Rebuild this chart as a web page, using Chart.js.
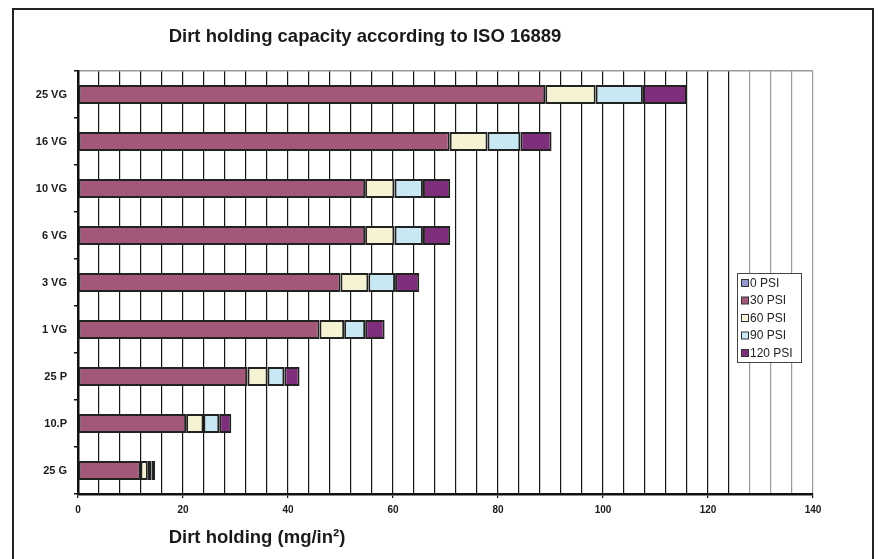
<!DOCTYPE html>
<html>
<head>
<meta charset="utf-8">
<title>Dirt holding capacity</title>
<script src="https://cdn.jsdelivr.net/npm/chart.js@4.4.1/dist/chart.umd.min.js"></script>
<style>
  html, body { margin: 0; padding: 0; background: #fff; }
  #wrap { width: 879px; height: 559px; }
</style>
</head>
<body>
<div id="wrap"><canvas id="dirtChart" width="879" height="559"></canvas></div>
<script>
// --- Datos ---
const categories = ['25 VG', '16 VG', '10 VG', '6 VG', '3 VG', '1 VG', '25 P', '10.P', '25 G'];
const seriesNames = ['0 PSI', '30 PSI', '60 PSI', '90 PSI', '120 PSI'];
const psi0 = [0, 0, 0, 0, 0, 0, 0, 0, 0];
const psi30 = [89, 70.8, 54.7, 54.7, 50, 46, 32.3, 20.6, 11.9];
const psi60 = [9.6, 7.2, 5.6, 5.6, 5.3, 4.7, 3.8, 3.3, 1.4];
const psi90 = [9.0, 6.3, 5.4, 5.4, 5.1, 4.0, 3.2, 3.0, 0.7];
const psi120 = [8.4, 5.9, 5.2, 5.2, 4.6, 3.7, 2.9, 2.3, 0.7];
const xTicks = [0, 20, 40, 60, 80, 100, 120, 140];

const colors = ['#9297cc', '#a3587a', '#f5f3d4', '#c8e8f4', '#7d2f7c'];
const FONT = '"Liberation Sans", Arial, sans-serif';

// Marco, títulos y leyenda dibujados a mano
const decorPlugin = {
    id: 'decor',
    afterDraw(chart) {
        const ctx = chart.ctx;
        ctx.save();

        // marco exterior
        ctx.strokeStyle = '#222';
        ctx.lineWidth = 2;
        ctx.strokeRect(13, 9, 860, 620);

        ctx.fillStyle = '#1a1a1a';
        ctx.textBaseline = 'middle';
        ctx.textAlign = 'center';
        ctx.font = 'bold 18.5px ' + FONT;
        ctx.fillText('Dirt holding capacity according to ISO 16889', 365, 37);
        ctx.fillText('Dirt holding (mg/in²)', 257, 538);

        // leyenda
        const lx = 737, ly = 273, lw = 64, lh = 89;
        ctx.fillStyle = '#fff';
        ctx.fillRect(lx, ly, lw, lh);
        ctx.strokeStyle = '#444';
        ctx.lineWidth = 1;
        ctx.strokeRect(lx + 0.5, ly + 0.5, lw, lh);
        ctx.textAlign = 'left';
        ctx.font = '12px ' + FONT;
        chart.data.datasets.forEach((ds, i) => {
            const y = ly + 10 + i * 17.5;
            ctx.fillStyle = ds.backgroundColor;
            ctx.fillRect(lx + 4, y - 3.5, 7, 7);
            ctx.strokeStyle = '#333';
            ctx.strokeRect(lx + 4.5, y - 3.5, 7, 7);
            ctx.fillStyle = '#222';
            ctx.fillText(ds.label, lx + 13, y + 0.5);
        });
        ctx.restore();
    }
};

const dataSeries = [psi0, psi30, psi60, psi90, psi120];

new Chart(document.getElementById('dirtChart'), {
    type: 'bar',
    data: {
        labels: categories,
        datasets: dataSeries.map((vals, i) => ({
            label: seriesNames[i],
            data: vals,
            backgroundColor: colors[i],
            borderColor: '#222',
            borderWidth: 2,
            borderSkipped: false,
            barPercentage: 0.4,
            categoryPercentage: 1
        }))
    },
    options: {
        indexAxis: 'y',
        responsive: false,
        animation: false,
        layout: { padding: { top: 71, right: 66, left: 0, bottom: 0 } },
        plugins: {
            legend: { display: false },
            tooltip: { enabled: false },
            title: { display: false }
        },
        scales: {
            x: {
                type: 'linear',
                stacked: true,
                min: 0,
                max: 140,
                afterFit: (s) => { s.height = 65; },
                ticks: {
                    stepSize: 4,
                    autoSkip: false,
                    maxRotation: 0,
                    padding: 6,
                    color: '#1a1a1a',
                    font: { family: '"Liberation Sans Narrow", ' + FONT, size: 10, weight: 'bold' },
                    callback: (v) => xTicks.includes(v) ? v : ''
                },
                grid: {
                    color: (c) => (c.tick && c.tick.value >= 128) ? '#9a9a9a' : '#151515',
                    lineWidth: 1.2,
                    tickLength: 4,
                    tickColor: (c) => (c.tick && xTicks.includes(c.tick.value)) ? '#111' : 'rgba(0,0,0,0)'
                },
                border: { color: '#111', width: 2.5 }
            },
            y: {
                type: 'category',
                stacked: true,
                afterFit: (s) => { s.width = 78; },
                ticks: {
                    padding: 7,
                    color: '#1a1a1a',
                    font: { family: FONT, size: 11, weight: 'bold' }
                },
                grid: {
                    offset: true,
                    drawOnChartArea: true,
                    color: (c) => c.index === 0 ? '#9a9a9a' : 'rgba(0,0,0,0)',
                    tickColor: '#111',
                    lineWidth: 1.5,
                    tickLength: 4
                },
                border: { color: '#111', width: 2.5 }
            }
        }
    },
    plugins: [decorPlugin]
});
</script>
</body>
</html>
